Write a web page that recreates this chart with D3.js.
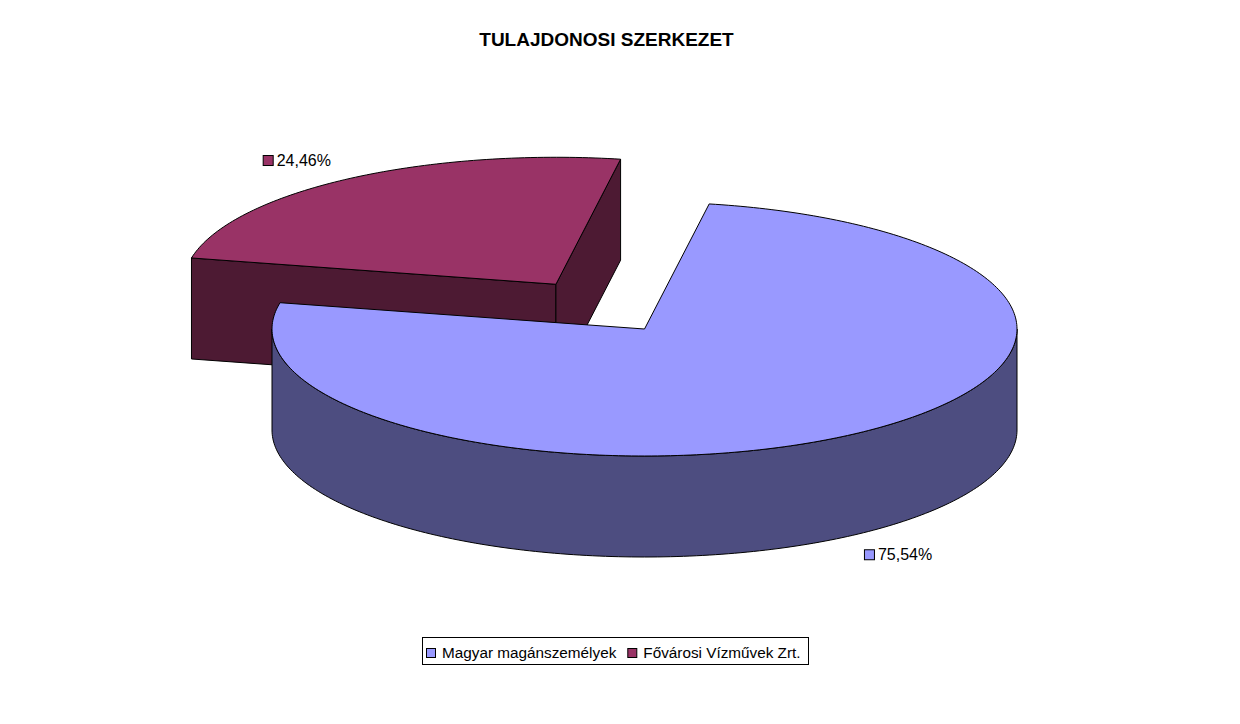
<!DOCTYPE html>
<html><head><meta charset="utf-8">
<script src="https://cdn.jsdelivr.net/npm/d3@7"></script>
<style>body{margin:0;background:#fff} svg{display:block}</style>
</head><body><svg id="c" width="1240" height="724"></svg>
<script>
const title = "TULAJDONOSI SZERKEZET";
const categories = ["Magyar magánszemélyek", "Fővárosi Vízművek Zrt."];
const values = [75.54, 24.46];
const valueLabels = ["75,54%", "24,46%"];
const explode = [0, 0.425];

const topColors = ["#9999FF", "#993366"];
const sideColors = ["#4D4D80", "#4D1A33"];

const cx = 644.5, cy = 329, rx = 372.5, ry = 127, depth = 101;
const font = "'Liberation Sans', Arial, sans-serif";

const svg = d3.select("#c");
svg.append("rect").attr("width", 1240).attr("height", 724).attr("fill", "#fff");

const x = d3.scaleLinear().domain([-1, 1]).range([cx - rx, cx + rx]);
const y = d3.scaleLinear().domain([-1, 1]).range([cy + ry, cy - ry]);

const start = 10 * Math.PI / 180;
const arcs = d3.pie().sort(null).startAngle(start).endAngle(start + 2 * Math.PI)(values);
arcs.forEach((d, i) => {
  const m = (d.startAngle + d.endAngle) / 2;
  d.mid = m; d.i = i;
  d.ox = explode[i] * Math.sin(m);
  d.oy = explode[i] * Math.cos(m);
});

const P = (d, a, r = 1, dz = 0) => [x(d.ox + r * Math.sin(a)), y(d.oy + r * Math.cos(a)) + dz];
function arcPts(d, a0, a1, dz) {
  const n = Math.max(2, Math.ceil(360 * (a1 - a0) / (2 * Math.PI)));
  return d3.range(n + 1).map(k => P(d, a0 + (a1 - a0) * k / n, 1, dz));
}
const line = d3.line();
const TAU = 2 * Math.PI;

const g = svg.append("g");
const order = arcs.slice().sort((a, b) => b.oy - a.oy);
order.forEach(d => {
  const a0 = d.startAngle, a1 = d.endAngle;
  const sg = g.append("g");
  const style = sel => sel.attr("stroke", "#000").attr("stroke-width", 1).attr("stroke-linejoin", "round");
  // radial faces
  const faces = [];
  if (Math.sin(a0) < 0) faces.push(a0);
  if (Math.sin(a1) > 0) faces.push(a1);
  faces.forEach(a => {
    const pts = [P(d, a, 0, 0), P(d, a, 1, 0), P(d, a, 1, depth), P(d, a, 0, depth)];
    sg.append("path").attr("d", line(pts) + "Z").attr("fill", sideColors[d.i]).call(style);
  });
  // outer curved side (front half)
  for (let k = -1; k <= 1; k++) {
    const lo = Math.max(a0, Math.PI / 2 + TAU * k), hi = Math.min(a1, 1.5 * Math.PI + TAU * k);
    if (hi > lo) {
      const pts = arcPts(d, lo, hi, 0).concat(arcPts(d, lo, hi, depth).reverse());
      sg.append("path").attr("d", line(pts) + "Z").attr("fill", sideColors[d.i]).call(style);
    }
  }
  // top
  const topPts = [P(d, 0, 0, 0)].concat(arcPts(d, a0, a1, 0));
  sg.append("path").attr("d", line(topPts) + "Z").attr("fill", topColors[d.i]).call(style);
});

// title
svg.append("text").attr("x", 606.5).attr("y", 46).attr("text-anchor", "middle")
  .attr("font-family", font).attr("font-weight", "bold").attr("font-size", 19)
  .attr("fill", "#000").text(title);

// data labels
arcs.forEach(d => {
  const front = Math.cos(d.mid) < 0;
  const [ax, ay] = P(d, d.mid, 1, front ? depth : 0);
  const lg = svg.append("g");
  const t = lg.append("text").attr("font-family", font).attr("font-size", 16).attr("fill", "#000")
    .text(valueLabels[d.i]);
  const tw = t.node().getComputedTextLength();
  const boxW = 10 + 4 + tw;
  const left = Math.sin(d.mid) > 0 ? ax + 11 : ax - 16.5 - boxW;
  const top = front ? ay + 14 : ay - 13 - 11;
  lg.append("rect").attr("x", left + 0.5).attr("y", top + 0.5).attr("width", 10).attr("height", 10)
    .attr("fill", topColors[d.i]).attr("stroke", "#000").attr("stroke-width", 1);
  t.attr("x", left + 14).attr("y", top + 11);
});

// legend
const leg = svg.append("g");
const items = [];
let cur = 0;
categories.forEach((c, i) => {
  const t = leg.append("text").attr("font-family", font).attr("font-size", 15.3).attr("fill", "#000").text(c);
  const w = t.node().getComputedTextLength();
  items.push({ t, off: cur, w, i });
  cur += 10 + 6 + w + (i < categories.length - 1 ? 11 : 0);
});
const padL = 4, padR = 7;
const boxW = cur + padL + padR;
const bx = Math.round(615 - boxW / 2), by = 637, bh = 27;
leg.insert("rect", ":first-child").attr("x", bx + 0.5).attr("y", by + 0.5).attr("width", Math.round(boxW)).attr("height", bh)
  .attr("fill", "#fff").attr("stroke", "#000").attr("stroke-width", 1);
items.forEach(it => {
  const mx = bx + padL + it.off;
  leg.append("rect").attr("x", mx + 0.5).attr("y", 648.5).attr("width", 9).attr("height", 9)
    .attr("fill", topColors[it.i]).attr("stroke", "#000").attr("stroke-width", 1);
  it.t.attr("x", mx + 16).attr("y", 658);
});
</script>
</body></html>
